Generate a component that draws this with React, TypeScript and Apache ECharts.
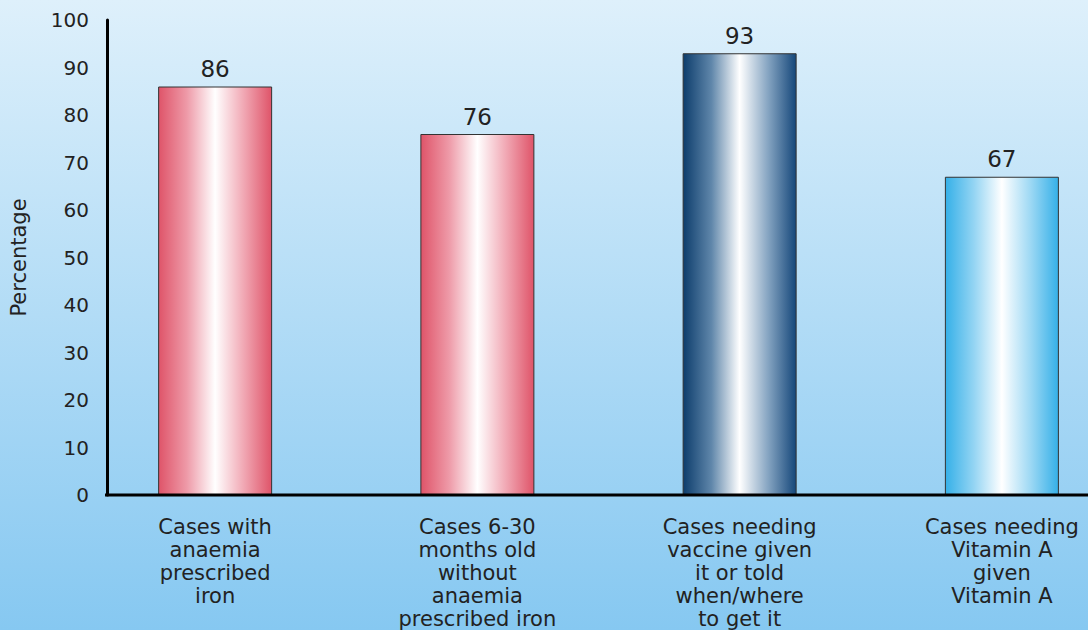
import React, { useEffect, useRef } from "react";
import * as echarts from "echarts";

const categories = [
  "Cases with\nanaemia\nprescribed\niron",
  "Cases 6-30\nmonths old\nwithout\nanaemia\nprescribed iron",
  "Cases needing\nvaccine given\nit or told\nwhen/where\nto get it",
  "Cases needing\nVitamin A\ngiven\nVitamin A",
];
const values = [86, 76, 93, 67];
const yTicks = { min: 0, max: 100, interval: 10 };
const axisName = "Percentage";

const grad = (edgeL: string, q1: string, q3: string, edgeR: string) =>
  new echarts.graphic.LinearGradient(0, 0, 1, 0, [
    { offset: 0, color: edgeL },
    { offset: 0.25, color: q1 },
    { offset: 0.5, color: "#ffffff" },
    { offset: 0.75, color: q3 },
    { offset: 1, color: edgeR },
  ]);

const barColors = [
  grad("#df5469", "#ee9aa8", "#f1a9b5", "#df5469"),
  grad("#df5469", "#ee9aa8", "#f1a9b5", "#df5469"),
  grad("#0d3d6c", "#5f86aa", "#86a5c2", "#15477a"),
  grad("#35b0e8", "#93d4f3", "#9fd9f4", "#35b0e8"),
];

const FONT = "DejaVu Sans";

export default function App() {
  const ref = useRef<HTMLDivElement>(null);
  useEffect(() => {
    if (!ref.current) return;
    const chart = echarts.init(ref.current, null, { renderer: "svg" });
    chart.setOption({
      animation: false,
      backgroundColor: new echarts.graphic.LinearGradient(0, 0, 0, 1, [
        { offset: 0, color: "#def0fb" },
        { offset: 1, color: "#86c8f1" },
      ]),
      grid: { left: 83, right: 0, top: 20, bottom: 135, containLabel: false },
      xAxis: {
        type: "category",
        data: categories,
        axisLine: { show: false },
        axisTick: { show: false },
        axisLabel: {
          interval: 0,
          margin: 20,
          fontFamily: FONT,
          fontSize: 21,
          lineHeight: 23,
          color: "#222",
          align: "center",
        },
      },
      yAxis: {
        type: "value",
        min: yTicks.min,
        max: yTicks.max,
        interval: yTicks.interval,
        offset: -23,
        name: axisName,
        nameLocation: "middle",
        nameGap: 78,
        nameRotate: 90,
        nameTextStyle: { fontFamily: FONT, fontSize: 21, color: "#222" },
        splitLine: { show: false },
        axisTick: { show: false },
        axisLine: { show: true, lineStyle: { color: "#000", width: 3 } },
        axisLabel: { margin: 18, fontFamily: FONT, fontSize: 20, color: "#222" },
      },
      graphic: [
        {
          type: "line",
          shape: { x1: 105, y1: 495, x2: 1088, y2: 495 },
          style: { stroke: "#000", lineWidth: 3 },
          z: 10,
        },
      ],
      series: [
        {
          type: "bar",
          barWidth: 114,
          data: values.map((v, i) => ({
            value: v,
            itemStyle: { color: barColors[i] },
          })),
          itemStyle: { borderColor: "#333", borderWidth: 1 },
          label: {
            show: true,
            position: "top",
            distance: 6,
            fontFamily: FONT,
            fontSize: 23,
            color: "#222",
          },
        },
      ],
    });
    return () => chart.dispose();
  }, []);
  return (
    <div
      style={{
        position: "absolute",
        left: 0,
        top: 0,
        width: 1088,
        height: 630,
        overflow: "hidden",
      }}
    >
      <div ref={ref} style={{ width: 1133, height: 630 }} />
    </div>
  );
}
